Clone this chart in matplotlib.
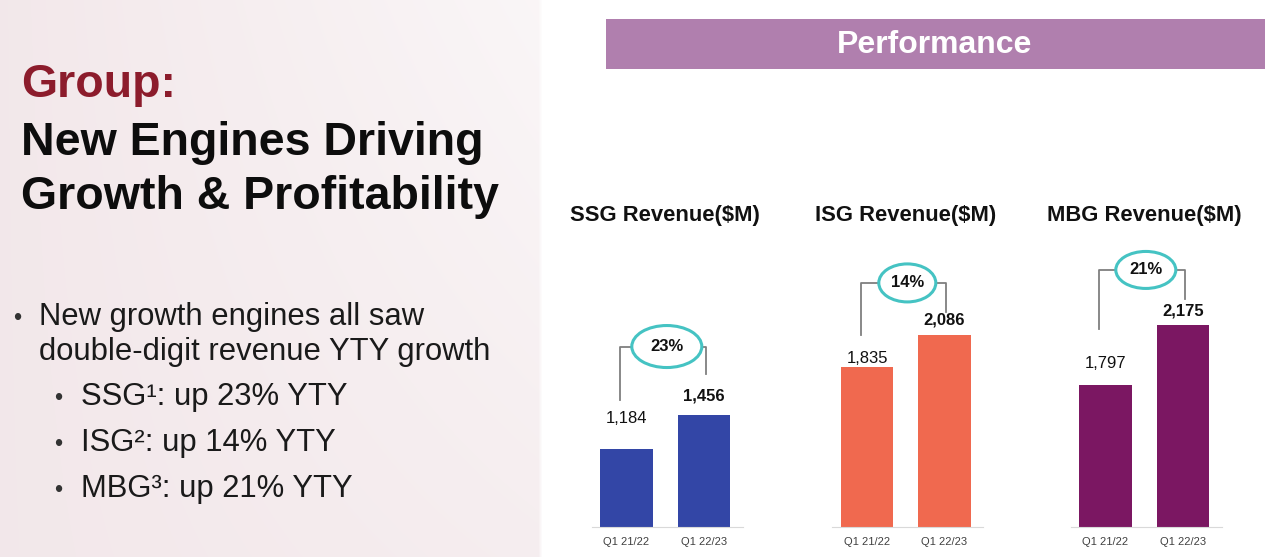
import numpy as np
import matplotlib.pyplot as plt
from matplotlib.patches import Ellipse, Rectangle

plt.rcParams['font.family'] = ['Liberation Sans', 'DejaVu Sans']

# ---- data ----
periods = ['Q1 21/22', 'Q1 22/23']
panel_titles = ['SSG Revenue($M)', 'ISG Revenue($M)', 'MBG Revenue($M)']
ssg_revenue = [1184, 1456]
isg_revenue = [1835, 2086]
mbg_revenue = [1797, 2175]
yty_growth = ['23%', '14%', '21%']

bullet_main = ['New growth engines all saw', 'double-digit revenue YTY growth']
bullet_sub = ['SSG\u00b9: up 23% YTY', 'ISG\u00b2: up 14% YTY', 'MBG\u00b3: up 21% YTY']

revenues = [ssg_revenue, isg_revenue, mbg_revenue]

# ---- styling per panel (pixel gaps above bars) ----
PANEL_PROPS = [
    {'color': '#3346a6', 'left': 580.0, 'ylim': (566, 2940), 'gaps': (68, 49, 41), 'lab': (30, 19), 'ell': (70, 42)},
    {'color': '#f0694f', 'left': 820.5, 'ylim': (566, 2940), 'gaps': (52, 32, 23), 'lab': (8, 15), 'ell': (57, 38)},
    {'color': '#7b1762', 'left': 1059.0, 'ylim': (896, 2795), 'gaps': (55, 56, 26), 'lab': (21, 14), 'ell': (60, 37)},
]

W, H = 1280, 557
AX_W, AX_H, AX_B = 170.5, 300.0, 30.0
STEP = AX_W / 2.2   # pixels per x unit

fig = plt.figure(figsize=(W / 100, H / 100), dpi=100)

# background: light pink left panel, white right side
bg = fig.add_axes([0, 0, 1, 1], zorder=-10)
bg.axis('off')
px = np.arange(W)[None, :] * np.ones((H, 1))
py = np.arange(H)[:, None] * np.ones((1, W))
f = 0.35 + 0.4 * np.clip(px / 540, 0, 1) * (1 - 0.6 * py / H)
mask = np.clip((542 - px) / 4, 0, 1)
pink = np.array([0.925, 0.86, 0.875])
img = pink[None, None, :] * (1 - f[..., None]) + f[..., None]
img = img * mask[..., None] + (1 - mask[..., None])
bg.imshow(img, extent=[0, 1, 0, 1], aspect='auto', origin='upper')

# left text block
fig.text(21 / W, 1 - 97 / H, 'Group:', color='#8c1c2c', fontsize=33.5, fontweight='bold', va='baseline')
fig.text(21 / W, 1 - 155 / H, 'New Engines Driving', color='#0d0d0d', fontsize=33.5, fontweight='bold', va='baseline')
fig.text(21 / W, 1 - 209 / H, 'Growth & Profitability', color='#0d0d0d', fontsize=33.5, fontweight='bold', va='baseline')

for i, line in enumerate(bullet_main):
    yb = [325, 360][i]
    if i == 0:
        fig.text(13 / W, 1 - yb / H, '\u2022', color='#333333', fontsize=17, va='baseline')
    fig.text(39 / W, 1 - yb / H, line, color='#1a1a1a', fontsize=22.3, va='baseline')
for i, line in enumerate(bullet_sub):
    yb = [405, 451, 497][i]
    fig.text(54 / W, 1 - yb / H, '\u2022', color='#333333', fontsize=17, va='baseline')
    fig.text(81 / W, 1 - yb / H, line, color='#1a1a1a', fontsize=22.3, va='baseline')

# banner
fig.patches.append(Rectangle((606 / W, 1 - 69 / H), 659 / W, 50 / H, transform=fig.transFigure,
                             facecolor='#b07fae', edgecolor='none'))
fig.text(935 / W, 1 - 45 / H, 'Performance', color='white', fontsize=23, fontweight='bold',
         ha='center', va='center')

# bar panels
x = np.arange(len(periods))
for vals, title, growth, props in zip(revenues, panel_titles, yty_growth, PANEL_PROPS):
    ax = fig.add_axes([props['left'] / W, AX_B / H, AX_W / W, AX_H / H])
    ax.set_facecolor('none')
    ax.bar(x, vals, width=0.68, color=props['color'], zorder=2)
    ax.set_xlim(-0.6, 1.6)
    ax.set_ylim(*props['ylim'])
    k = AX_H / (props['ylim'][1] - props['ylim'][0])

    for spine in ['left', 'right', 'top']:
        ax.spines[spine].set_visible(False)
    ax.spines['bottom'].set_color('#d9d9d9')
    ax.spines['bottom'].set_bounds(-0.45, 1.5)
    ax.set_yticks([])
    ax.set_xticks(x)
    ax.set_xticklabels(periods, fontsize=8, color='#404040')
    ax.tick_params(axis='x', length=0, pad=7)
    ax.set_title(title, fontsize=15.8, fontweight='bold', color='#111111', pad=4)

    for i, v in enumerate(vals):
        ax.annotate(f'{v:,}', (x[i], v), xytext=(0, props['lab'][i] * 0.72), textcoords='offset points',
                    ha='center', va='center', fontsize=12, color='#111111',
                    fontweight='bold' if i == 1 else 'normal', annotation_clip=False)

    top = max(vals) + props['gaps'][0] / k
    lb = vals[0] + props['gaps'][1] / k
    rb = vals[1] + props['gaps'][2] / k
    xl, xr = x[0] - 0.08, x[1] + 0.02
    ax.plot([xl, xl, xr, xr], [lb, top, top, rb], color='#7f7f7f', lw=1.3, clip_on=False, zorder=3)
    ew, eh = props['ell']
    ax.add_patch(Ellipse((0.52, top), ew / STEP, eh / k, facecolor='white', edgecolor='#45c3c3',
                         lw=2.2, clip_on=False, zorder=4))
    ax.text(0.52, top, growth, ha='center', va='center', fontsize=12, fontweight='bold',
            color='#111111', zorder=5)

fig.savefig('out.png', dpi=100)
